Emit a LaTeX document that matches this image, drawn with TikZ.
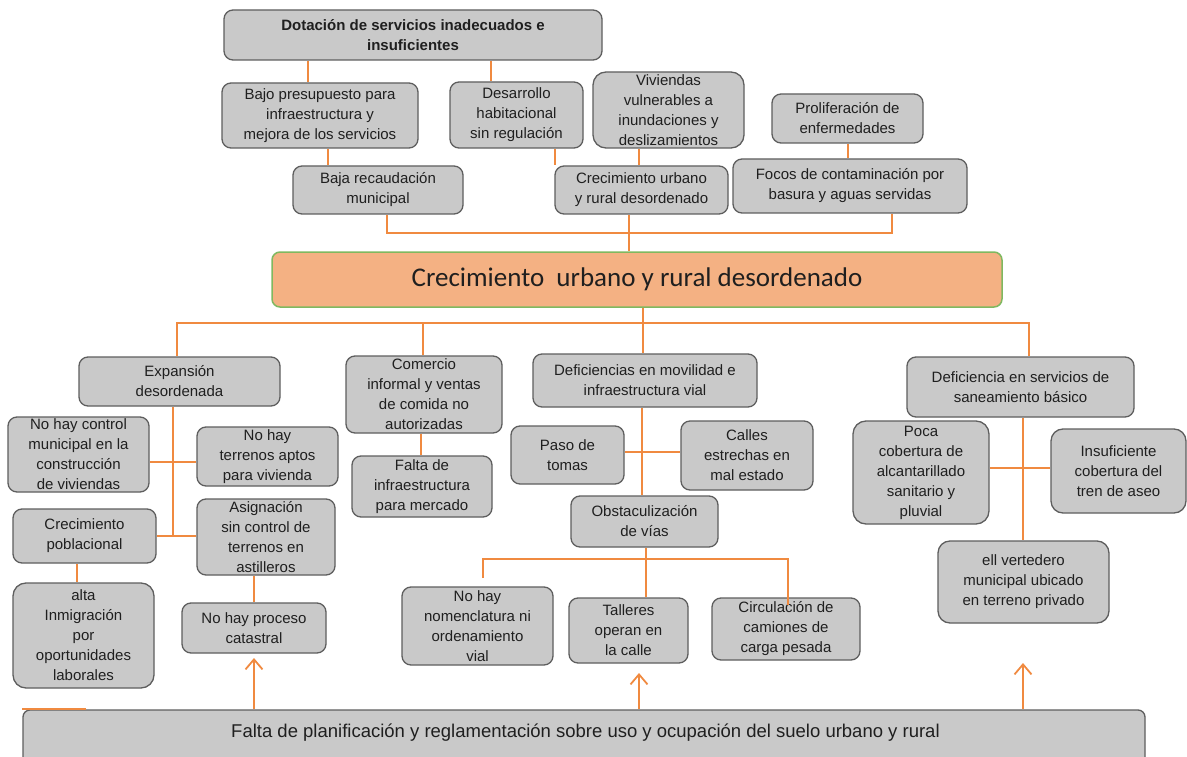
\documentclass[tikz,border=0pt]{standalone}
\usepackage{fontspec}
\setmainfont{Liberation Sans}
\newfontfamily\calfont{Carlito}
\usetikzlibrary{arrows.meta}
\definecolor{orng}{HTML}{F08A40}
\definecolor{bfill}{HTML}{C9C9C9}
\definecolor{bline}{HTML}{5E5E5E}
\definecolor{cfill}{HTML}{F4B183}
\definecolor{cline}{HTML}{7FB860}
\tikzset{
  box/.style={draw=bline, fill=bfill, line width=1.3pt, rounded corners=9pt, inner sep=0pt,
    align=center, font=\fontsize{15}{20}\selectfont, text=black!88},
  sz/.style 2 args={minimum width=#1pt, minimum height=#2pt},
  con/.style={draw=orng, line width=1.8pt},
  arr/.style={con, -{Straight Barb[length=10pt,width=17pt]}},
}
\begin{document}
\begin{tikzpicture}[x=1pt,y=-1pt]
\useasboundingbox (0,0) rectangle (1187,757);
\clip (0,0) rectangle (1187,757);
% ---------- top ----------
\node[box, sz={378}{50}, font=\bfseries\fontsize{15}{20}\selectfont] (dot) at (413,35) {Dotación de servicios inadecuados e\\insuficientes};
\node[box, sz={196}{65}] (bajo) at (320,115.5) {Bajo presupuesto para\\infraestructura y\\mejora de los servicios};
\node[box, sz={133}{66}] (desa) at (516.5,115) {Desarrollo\\habitacional\\sin regulación};
\node[box, sz={170}{48}] (baja) at (378,190) {Baja recaudación\\municipal};
\node[box, sz={151}{76}, rounded corners=13pt] (viv) at (668.5,110) {Viviendas\\vulnerables a\\inundaciones y\\deslizamientos};
\node[box, sz={173}{48}] (crecu) at (641.5,190) {Crecimiento urbano\\y rural desordenado};
\node[box, sz={151}{49}] (prol) at (847.5,118.5) {Proliferación de\\enfermedades};
\node[box, sz={234}{54}] (focos) at (850,186) {Focos de contaminación por\\basura y aguas servidas};
% ---------- central ----------
\node[draw=cline, fill=cfill, line width=1.5pt, rounded corners=8pt, minimum width=730pt, minimum height=55pt,
  inner sep=0pt, text=black!88, font=\calfont\fontsize{27}{32}\selectfont] (cen) at (637,279.5) {Crecimiento\ \ urbano y rural desordenado};
% ---------- left column ----------
\node[box, sz={201}{49}] (exp) at (179.5,381.5) {Expansión\\desordenada};
\node[box, sz={141}{75}] (nhc) at (78.5,454.5) {No hay control\\municipal en la\\construcción\\de viviendas};
\node[box, sz={141}{59}] (nht) at (267.5,456.5) {No hay\\terrenos aptos\\para vivienda};
\node[box, sz={143}{54}] (crp) at (84.5,536) {Crecimiento\\poblacional};
\node[box, sz={138}{76}] (asig) at (266,537) {Asignación\\sin control de\\terrenos en\\astilleros};
\node[box, sz={141}{105}, rounded corners=13pt] (alta) at (83.5,635.5) {alta\\Inmigración\\por\\oportunidades\\laborales};
\node[box, sz={144}{50}] (nhp) at (254,628) {No hay proceso\\catastral};
% ---------- centre column ----------
\node[box, sz={156}{77}] (com) at (424,394.5) {Comercio\\informal y ventas\\de comida no\\autorizadas};
\node[box, sz={140}{61}] (fin) at (422,486.5) {Falta de\\infraestructura\\para mercado};
\node[box, sz={224}{53}] (def) at (645,380.5) {Deficiencias en movilidad e\\infraestructura vial};
\node[box, sz={113}{58}] (paso) at (567.5,455) {Paso de\\tomas};
\node[box, sz={132}{69}] (calles) at (747,455.5) {Calles\\estrechas en\\mal estado};
\node[box, sz={147}{51}] (obs) at (644.5,521.5) {Obstaculización\\de vías};
\node[box, sz={151}{78}] (nom) at (477.5,626) {No hay\\nomenclatura ni\\ordenamiento\\vial};
\node[box, sz={119}{65}] (tall) at (628.5,630.5) {Talleres\\operan en\\la calle};
\node[box, sz={148}{62}] (circ) at (786,629) {Circulación de\\camiones de\\carga pesada};
% ---------- right column ----------
\node[box, sz={227}{60}] (defs) at (1020.5,387) {Deficiencia en servicios de\\saneamiento básico};
\node[box, sz={136}{103}, rounded corners=13pt] (poca) at (921,472.5) {Poca\\cobertura de\\alcantarillado\\sanitario y\\pluvial};
\node[box, sz={135}{84}, rounded corners=12pt] (insu) at (1118.5,471) {Insuficiente\\cobertura del\\tren de aseo};
\node[box, sz={171}{82}, rounded corners=12pt] (vert) at (1023.5,582) {ell vertedero\\municipal ubicado\\en terreno privado};
% ---------- bottom ----------
\node[box, sz={1122}{80}, rounded corners=7pt] (falta) at (584,750) {};
\node[font=\fontsize{18.5}{22}\selectfont, text=black!88] (faltatxt) at (585.5,733) {Falta de planificación y reglamentación sobre uso y ocupación del suelo urbano y rural};
% ---------- connectors ----------
\draw[con] (dot.south-|308,0) -- (bajo.north-|308,0);
\draw[con] (dot.south-|491,0) -- (desa.north-|491,0);
\draw[con] (bajo.south-|328,0) -- (baja.north-|328,0);
\draw[con] (desa.south-|555,0) -- (crecu.north-|555,0);
\draw[con] (viv.south-|639,0) -- (crecu.north-|639,0);
\draw[con] (prol.south-|848,0) -- (focos.north-|848,0);
\draw[con] (baja.south-|387,0) |- (892,233) -- (focos.south-|892,0);
\draw[con] (crecu.south-|629,0) -- (cen.north-|629,0);
\draw[con] (cen.south-|643,0) -- (def.north-|643,0);
\draw[con] (exp.north-|177,0) |- (1029,323) -- (defs.north-|1029,0);
\draw[con] (com.north-|423,0) -- (423,323);
\draw[con] (exp.south-|173,0) -- (crp.east-|173,0);
\draw[con] (nhc.east|-0,462) -- (nht.west|-0,462);
\draw[con] (crp.east) -- (asig.west|-crp.east);
\draw[con] (crp.south-|77,0) -- (alta.north-|77,0);
\draw[con] (asig.south-|254,0) -- (nhp.north-|254,0);
\draw[con] (com.south-|421,0) -- (fin.north-|421,0);
\draw[con] (def.south-|642,0) -- (obs.north-|642,0);
\draw[con] (paso.east|-0,452) -- (calles.west|-0,452);
\draw[con] (obs.south-|646,0) -- (tall.north-|646,0);
\coordinate (nomtop) at (483,578);
\coordinate (circin) at (788,605);
\draw[con] (nomtop) |- (788,559) -- (circin);
\draw[con] (defs.south-|1023,0) -- (vert.north-|1023,0);
\draw[con] (poca.east|-0,468) -- (insu.west|-0,468);
\coordinate (t1) at (254,658);
\coordinate (t2) at (639,673);
\coordinate (t3) at (1023,663);
\draw[arr] (falta.north-|t1) -- (t1);
\draw[arr] (falta.north-|t2) -- (t2);
\draw[arr] (falta.north-|t3) -- (t3);
\draw[con] (falta.north west) -- (falta.north west-|86,0);
\end{tikzpicture}
\end{document}
